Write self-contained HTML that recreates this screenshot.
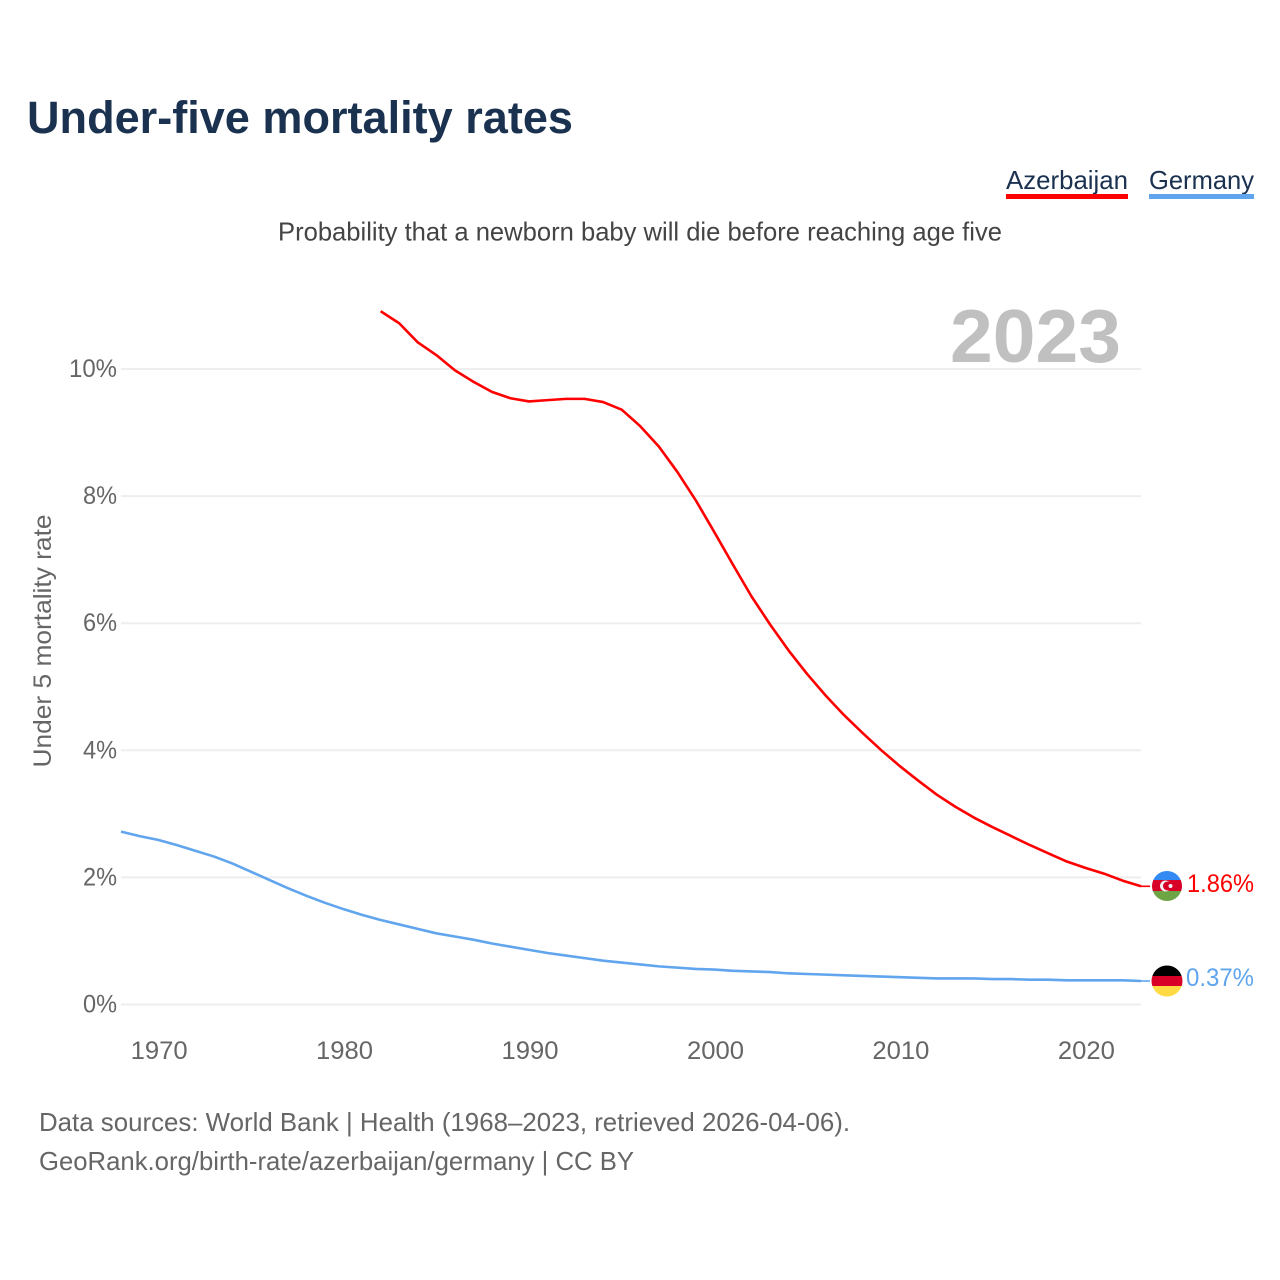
<!DOCTYPE html>
<html lang="en">
<head>
<meta charset="utf-8">
<title>Under-five mortality rates</title>
<style>
html,body{margin:0;padding:0;background:#fff;width:1280px;height:1280px;overflow:hidden}
svg{display:block}
text{font-family:"Liberation Sans","DejaVu Sans",sans-serif}
</style>
</head>
<body>
<svg id="chart" xmlns="http://www.w3.org/2000/svg" width="1280" height="1280" viewBox="0 0 1280 1280">
  <defs>
    <clipPath id="az-clip"><circle cx="1167" cy="886" r="15"></circle></clipPath>
    <clipPath id="de-clip"><circle cx="1167" cy="981" r="15.5"></circle></clipPath>
  </defs>
  <text x="27" y="133" font-size="45" font-weight="700" fill="#1a3150" textLength="546" lengthAdjust="spacingAndGlyphs">Under-five mortality rates</text>
  <text x="1006" y="189" font-size="26" fill="#1a3150" textLength="122" lengthAdjust="spacingAndGlyphs">Azerbaijan</text>
  <rect x="1006" y="194" width="122" height="5" fill="#ff0000"></rect>
  <text x="1149" y="189" font-size="26" fill="#1a3150" textLength="105" lengthAdjust="spacingAndGlyphs">Germany</text>
  <rect x="1149" y="194" width="105" height="5" fill="#60a5ed"></rect>
  <text x="278" y="240.5" font-size="26" fill="#444444" textLength="724" lengthAdjust="spacingAndGlyphs">Probability that a newborn baby will die before reaching age five</text>
  <g id="grid"></g>
  <text x="950" y="362" font-size="75" font-weight="700" fill="#c0c0c0" textLength="171" lengthAdjust="spacingAndGlyphs">2023</text>
  <g id="y-ticks"></g>
  <g id="x-ticks"></g>
  <text transform="translate(51,641) rotate(-90)" text-anchor="middle" font-size="25" fill="#666666" textLength="253" lengthAdjust="spacingAndGlyphs">Under 5 mortality rate</text>
  <polyline id="line-azerbaijan" fill="none" stroke="#ff0000" stroke-width="2.6" stroke-linejoin="round"></polyline>
  <polyline id="line-germany" fill="none" stroke="#60a5ed" stroke-width="2.6" stroke-linejoin="round"></polyline>
  <line id="conn-az" stroke="#ff0000" stroke-width="1.6"></line>
  <line id="conn-de" stroke="#60a5ed" stroke-width="1.6"></line>
  <g clip-path="url(#az-clip)">
    <rect x="1150" y="870" width="34" height="10" fill="#338af3"></rect>
    <rect x="1150" y="880" width="34" height="11" fill="#d80027"></rect>
    <rect x="1150" y="891" width="34" height="12" fill="#6da544"></rect>
    <circle cx="1165.5" cy="886" r="5.5" fill="#f0f0f0"></circle>
    <circle cx="1167.5" cy="886" r="4.5" fill="#d80027"></circle>
    <circle cx="1170.5" cy="886" r="2" fill="#f0f0f0"></circle>
  </g>
  <g clip-path="url(#de-clip)">
    <rect x="1150" y="965" width="34" height="11" fill="#000000"></rect>
    <rect x="1150" y="976" width="34" height="10" fill="#d80027"></rect>
    <rect x="1150" y="986" width="34" height="12" fill="#ffda44"></rect>
  </g>
  <text id="value-az" x="1187" y="892" font-size="25" fill="#ff0000" textLength="67" lengthAdjust="spacingAndGlyphs"></text>
  <text id="value-de" x="1186" y="986" font-size="25" fill="#60a5ed" textLength="68" lengthAdjust="spacingAndGlyphs"></text>
  <text x="39" y="1131" font-size="26" fill="#666666" textLength="811" lengthAdjust="spacingAndGlyphs">Data sources: World Bank | Health (1968–2023, retrieved 2026-04-06).</text>
  <text x="39" y="1170" font-size="26" fill="#666666" textLength="595" lengthAdjust="spacingAndGlyphs">GeoRank.org/birth-rate/azerbaijan/germany | CC BY</text>
</svg>
<script>
const yTicks = [0, 2, 4, 6, 8, 10];
const xTicks = [1970, 1980, 1990, 2000, 2010, 2020];
const azStartYear = 1982;
const deStartYear = 1968;
const azerbaijanValues = [10.91,10.72,10.42,10.22,9.98,9.80,9.64,9.54,9.49,9.51,9.53,9.53,9.48,9.36,9.10,8.78,8.38,7.93,7.43,6.92,6.42,5.98,5.57,5.20,4.86,4.55,4.27,4.00,3.75,3.52,3.30,3.11,2.94,2.79,2.65,2.51,2.38,2.25,2.15,2.06,1.95,1.86];
const germanyValues = [2.72,2.65,2.59,2.51,2.42,2.33,2.22,2.09,1.96,1.83,1.71,1.60,1.50,1.41,1.33,1.26,1.19,1.12,1.07,1.02,0.96,0.91,0.86,0.81,0.77,0.73,0.69,0.66,0.63,0.60,0.58,0.56,0.55,0.53,0.52,0.51,0.49,0.48,0.47,0.46,0.45,0.44,0.43,0.42,0.41,0.41,0.41,0.40,0.40,0.39,0.39,0.38,0.38,0.38,0.38,0.37];
const azerbaijanLabel = "1.86%";
const germanyLabel = "0.37%";

const NS = "http://www.w3.org/2000/svg";
function xScale(year) { return 121 + (year - 1968) * (1141 - 121) / (2023 - 1968); }
function yScale(v) { return 1004.5 - v * 63.55; }
function linePoints(values, start) {
  return values.map(function (v, i) { return xScale(start + i).toFixed(2) + "," + yScale(v).toFixed(2); }).join(" ");
}

const gridGroup = document.getElementById("grid");
const yGroup = document.getElementById("y-ticks");
const xGroup = document.getElementById("x-ticks");

yTicks.forEach(function (t) {
  const gl = document.createElementNS(NS, "line");
  
  
  gl.setAttribute("x1", 121);
  gl.setAttribute("x2", 1141);
  gl.setAttribute("y1", yScale(t));
  gl.setAttribute("y2", yScale(t));
  gl.setAttribute("stroke", "#eeeeee");
  gl.setAttribute("stroke-width", 2);
  gridGroup.appendChild(gl);

  const lb = document.createElementNS(NS, "text");
  
  
  lb.setAttribute("x", 117);
  lb.setAttribute("y", yScale(t) + 8);
  lb.setAttribute("text-anchor", "end");
  lb.setAttribute("font-size", 25);
  lb.setAttribute("fill", "#666666");
  lb.setAttribute("textLength", t >= 10 ? 48 : 34);
  lb.setAttribute("lengthAdjust", "spacingAndGlyphs");
  lb.textContent = t + "%";
  yGroup.appendChild(lb);
});

xTicks.forEach(function (t) {
  const lb = document.createElementNS(NS, "text");
  
  
  lb.setAttribute("x", xScale(t) + 1);
  lb.setAttribute("y", 1059);
  lb.setAttribute("text-anchor", "middle");
  lb.setAttribute("font-size", 25);
  lb.setAttribute("fill", "#666666");
  lb.setAttribute("textLength", 57);
  lb.setAttribute("lengthAdjust", "spacingAndGlyphs");
  lb.textContent = t;
  xGroup.appendChild(lb);
});

document.getElementById("line-azerbaijan").setAttribute("points", linePoints(azerbaijanValues, azStartYear));
document.getElementById("line-germany").setAttribute("points", linePoints(germanyValues, deStartYear));

function connector(id, values) {
  const c = document.getElementById(id);
  const y = yScale(values[values.length - 1]);
  c.setAttribute("x1", 1141);
  c.setAttribute("x2", 1150);
  c.setAttribute("y1", y);
  c.setAttribute("y2", y);
}
connector("conn-az", azerbaijanValues);
connector("conn-de", germanyValues);
document.getElementById("value-az").textContent = azerbaijanLabel;
document.getElementById("value-de").textContent = germanyLabel;
</script>
</body>
</html>
